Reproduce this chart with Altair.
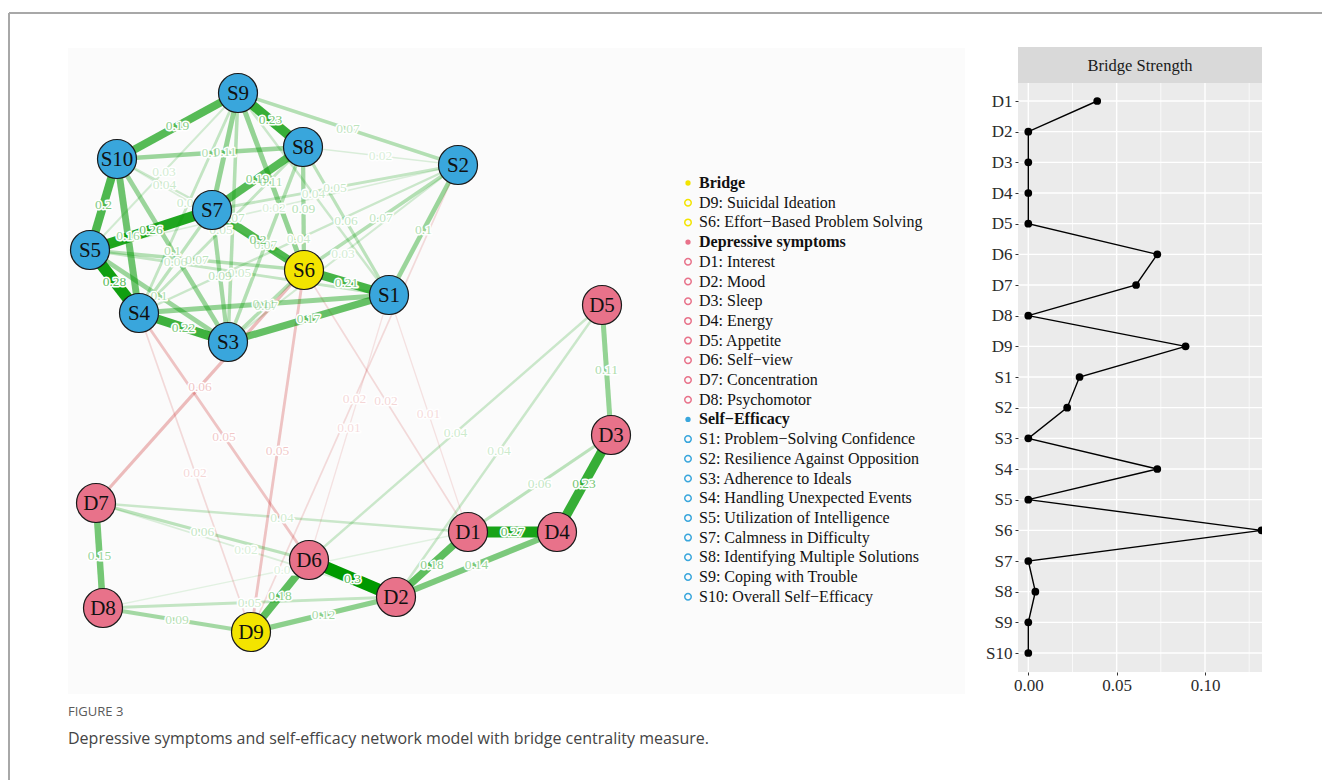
import altair as alt
import pandas as pd
import numpy as np

W, H = 1322, 780
SERIF = "Liberation Serif"
SANS = "Open Sans"

# ---------------- network nodes (layout coordinates) ----------------
node_ids = ["S1", "S2", "S3", "S4", "S5", "S6", "S7", "S8", "S9", "S10",
            "D1", "D2", "D3", "D4", "D5", "D6", "D7", "D8", "D9"]
node_x = [389, 458, 228, 139, 90, 304, 212, 303, 238, 117,
          468, 396, 611, 557, 602, 309, 96, 103, 251]
node_y = [295, 165, 342, 313, 250, 270, 210, 147, 93, 159,
          532, 597, 435, 532, 305, 560, 503, 608, 632]
node_group = (["Self-Efficacy"] * 5 + ["Bridge"] + ["Self-Efficacy"] * 4
              + ["Depressive symptoms"] * 8 + ["Bridge"])

# ---------------- network edges (partial correlations) ----------------
edge_from = ["S9", "S9", "S9", "S9", "S9", "S9", "S9", "S9", "S9",
             "S10", "S10", "S10", "S10", "S10", "S10",
             "S8", "S8", "S8", "S8", "S8", "S8",
             "S2", "S2", "S2", "S2", "S2", "S2",
             "S7", "S7", "S7", "S7",
             "S5", "S5", "S5", "S5",
             "S6", "S6", "S4", "S4", "S3",
             "S6", "S4", "S6", "S4", "S1", "S1", "S6", "S2",
             "D7", "D8", "D8", "D8", "D7", "D7", "D7",
             "D9", "D9", "D6", "D2", "D2", "D1", "D4", "D1", "D3", "D5", "D5"]
edge_to = ["S10", "S8", "S2", "S7", "S6", "S3", "S4", "S5", "S1",
           "S8", "S5", "S4", "S7", "S3", "S6",
           "S2", "S7", "S6", "S1", "S3", "S4",
           "S7", "S6", "S1", "S5", "S4", "S3",
           "S5", "S6", "S4", "S3",
           "S4", "S6", "S3", "S1",
           "S1", "S3", "S3", "S1", "S1",
           "D7", "D6", "D9", "D9", "D1", "D6", "D1", "D9",
           "D8", "D9", "D2", "D1", "D1", "D6", "D2",
           "D6", "D2", "D2", "D1", "D4", "D4", "D3", "D3", "D5", "D6", "D2"]
edge_weight = [0.19, 0.23, 0.07, 0.11, 0.11, 0.07, 0.05, 0.03, 0.04,
               0.10, 0.20, 0.16, 0.04, 0.10, 0.02,
               0.02, 0.19, 0.09, 0.06, 0.07, 0.05,
               0.05, 0.07, 0.10, 0.02, 0.04, 0.03,
               0.26, 0.20, 0.06, 0.09,
               0.28, 0.07, 0.10, 0.05,
               0.21, 0.07, 0.22, 0.11, 0.17,
               -0.06, -0.05, -0.05, -0.02, -0.01, -0.01, -0.02, -0.02,
               0.15, 0.09, 0.05, 0.01, 0.04, 0.06, 0.02,
               0.18, 0.12, 0.30, 0.18, 0.14, 0.27, 0.23, 0.06, 0.11, 0.04, 0.04]

# ---------------- legend ----------------
legend_labels = ["Bridge", "D9: Suicidal  Ideation", "S6: Effort\u2212Based Problem Solving",
                 "Depressive symptoms", "D1: Interest", "D2: Mood", "D3: Sleep", "D4: Energy",
                 "D5: Appetite", "D6: Self\u2212view", "D7: Concentration", "D8: Psychomotor",
                 "Self\u2212Efficacy", "S1: Problem\u2212Solving Confidence",
                 "S2: Resilience Against Opposition", "S3: Adherence to Ideals",
                 "S4: Handling Unexpected Events", "S5: Utilization of Intelligence",
                 "S7: Calmness in Difficulty", "S8: Identifying Multiple Solutions",
                 "S9: Coping with Trouble", "S10: Overall Self\u2212Efficacy"]
legend_group = (["Bridge"] * 3 + ["Depressive symptoms"] * 9 + ["Self-Efficacy"] * 10)
legend_header = [True, False, False, True] + [False] * 8 + [True] + [False] * 9

# ---------------- bridge strength ----------------
bridge_items = ["D1", "D2", "D3", "D4", "D5", "D6", "D7", "D8", "D9",
                "S1", "S2", "S3", "S4", "S5", "S6", "S7", "S8", "S9", "S10"]
bridge_values = [0.039, 0.0, 0.0, 0.0, 0.0, 0.073, 0.061, 0.0, 0.089,
                 0.029, 0.022, 0.0, 0.073, 0.0, 0.132, 0.0, 0.004, 0.0, 0.0]
x_ticks = [0.0, 0.05, 0.10]
x_minor = [0.025, 0.075, 0.125]

caption_title = "FIGURE 3"
caption_text = "Depressive symptoms and self-efficacy network model with bridge centrality measure."

# ================= build tables =================
GROUPS = ["Bridge", "Depressive symptoms", "Self-Efficacy"]
GROUP_COLS = ["#F3E400", "#E8728A", "#39A6DC"]

pos = {n: (x, y) for n, x, y in zip(node_ids, node_x, node_y)}
nodes = pd.DataFrame({"id": node_ids, "x": node_x, "y": node_y, "group": node_group})

edges = pd.DataFrame({"a": edge_from, "b": edge_to, "w": edge_weight})
edges["x"] = edges["a"].map(lambda n: pos[n][0])
edges["y"] = edges["a"].map(lambda n: pos[n][1])
edges["x2"] = edges["b"].map(lambda n: pos[n][0])
edges["y2"] = edges["b"].map(lambda n: pos[n][1])
edges["mx"] = (edges["x"] + edges["x2"]) / 2
edges["my"] = (edges["y"] + edges["y2"]) / 2
edges["aw"] = edges["w"].abs()
edges["sign"] = np.where(edges["w"] > 0, "pos", "neg")
edges["label"] = edges["aw"].map(lambda v: f"{v:.2f}".rstrip("0"))
edges = edges.sort_values("aw").reset_index(drop=True)
edges["ord"] = range(len(edges))

LEG_Y0, LEG_DY = 183, 19.7
legend = pd.DataFrame({"label": legend_labels, "group": legend_group, "header": legend_header})
legend["y"] = LEG_Y0 + LEG_DY * np.arange(len(legend))
legend["mx"] = 688
legend["tx"] = 699

bs = pd.DataFrame({"item": bridge_items, "value": bridge_values, "idx": range(len(bridge_items))})

# ================= scales =================
XS = alt.Scale(domain=[0, W], range=[0, W], nice=False, zero=False)
YS = alt.Scale(domain=[0, H], range=[0, H], nice=False, zero=False)

PANEL_L, PANEL_R, PANEL_T, PANEL_B = 1018, 1262, 83, 672
X0_PX, PER_UNIT = 1028.3, 1767.0
XP = alt.Scale(domain=[(PANEL_L - X0_PX) / PER_UNIT, (PANEL_R - X0_PX) / PER_UNIT],
               range=[PANEL_L, PANEL_R], nice=False, zero=False)
YP = alt.Scale(type="point", domain=bridge_items, range=[101, 653], padding=0)

SIGN_COL = alt.Scale(domain=["pos", "neg"], range=["#009900", "#BF0000"])
GRP_COL = alt.Scale(domain=GROUPS, range=GROUP_COLS)


def px(field, scale):
    return alt.X(field, scale=scale, axis=None)


def py(field, scale):
    return alt.Y(field, scale=scale, axis=None)


# ---- static decoration rects (pixel space) ----
rects = pd.DataFrame({
    "x": [68, PANEL_L, PANEL_L],
    "x2": [965, PANEL_R, PANEL_R],
    "y": [48, PANEL_T, 47],
    "y2": [694, PANEL_B, PANEL_T],
    "fill": ["#FBFBFB", "#EBEBEB", "#D9D9D9"],
})
rect_layer = alt.Chart(rects).mark_rect().encode(
    x=px("x:Q", XS), x2="x2:Q", y=py("y:Q", YS), y2="y2:Q",
    fill=alt.Fill("fill:N", scale=None),
)

frame = pd.DataFrame({"x": [9, 9], "x2": [W, 9], "y": [13, 13], "y2": [13, H]})
frame_layer = alt.Chart(frame).mark_rule(color="#A8A8A8", strokeWidth=2).encode(
    x=px("x:Q", XS), x2="x2:Q", y=py("y:Q", YS), y2="y2:Q")

edge_layer = alt.Chart(edges).mark_rule(strokeCap="butt").encode(
    x=px("x:Q", XS), y=py("y:Q", YS), x2="x2:Q", y2="y2:Q",
    color=alt.Color("sign:N", scale=SIGN_COL, legend=None),
    strokeWidth=alt.StrokeWidth("aw:Q", scale=alt.Scale(domain=[0, 0.3], range=[1.0, 12.0]), legend=None),
    opacity=alt.Opacity("aw:Q", scale=alt.Scale(domain=[0, 0.3], range=[0.07, 1.0]), legend=None),
    order=alt.Order("ord:Q"),
)

halo_layer = alt.Chart(edges).mark_text(
    font=SERIF, fontSize=13.5, fill="white", stroke="white", strokeWidth=3,
    strokeJoin="round", baseline="middle", align="center"
).encode(x=px("mx:Q", XS), y=py("my:Q", YS), text="label:N")

elabel_layer = alt.Chart(edges).mark_text(
    font=SERIF, fontSize=13.5, baseline="middle", align="center"
).encode(
    x=px("mx:Q", XS), y=py("my:Q", YS), text="label:N",
    color=alt.Color("sign:N", scale=SIGN_COL, legend=None),
    opacity=alt.Opacity("aw:Q", scale=alt.Scale(domain=[0, 0.3], range=[0.12, 0.7]), legend=None),
)

node_layer = alt.Chart(nodes).mark_circle(size=1520, stroke="#1A1A1A", strokeWidth=1.2, opacity=1).encode(
    x=px("x:Q", XS), y=py("y:Q", YS),
    color=alt.Color("group:N", scale=GRP_COL, legend=None),
)

nlabel_layer = alt.Chart(nodes).mark_text(font=SERIF, fontSize=21, color="#111111",
                                          baseline="middle", align="center", dy=1).encode(
    x=px("x:Q", XS), y=py("y:Q", YS), text="id:N")

leg_head_mark = alt.Chart(legend).transform_filter("datum.header").mark_circle(size=28, opacity=1).encode(
    x=px("mx:Q", XS), y=py("y:Q", YS),
    color=alt.Color("group:N", scale=GRP_COL, legend=None))
leg_item_mark = alt.Chart(legend).transform_filter("!datum.header").mark_point(
    size=42, strokeWidth=1.5, filled=False, opacity=1).encode(
    x=px("mx:Q", XS), y=py("y:Q", YS),
    color=alt.Color("group:N", scale=GRP_COL, legend=None))
leg_head_text = alt.Chart(legend).transform_filter("datum.header").mark_text(
    font=SERIF, fontSize=16, fontWeight="bold", align="left", baseline="middle", color="#111111").encode(
    x=px("tx:Q", XS), y=py("y:Q", YS), text="label:N")
leg_item_text = alt.Chart(legend).transform_filter("!datum.header").mark_text(
    font=SERIF, fontSize=16, align="left", baseline="middle", color="#111111").encode(
    x=px("tx:Q", XS), y=py("y:Q", YS), text="label:N")

texts = pd.DataFrame({
    "x": [68, 68, (PANEL_L + PANEL_R) / 2],
    "y": [712, 739, 66],
    "t": [caption_title, caption_text, "Bridge Strength"],
    "kind": ["fig", "cap", "strip"],
})
fig_layer = alt.Chart(texts).transform_filter("datum.kind == 'fig'").mark_text(
    font=SANS, fontSize=13, color="#5A5A5A", align="left", baseline="middle").encode(
    x=px("x:Q", XS), y=py("y:Q", YS), text="t:N")
cap_layer = alt.Chart(texts).transform_filter("datum.kind == 'cap'").mark_text(
    font=SANS, fontSize=16, color="#444444", align="left", baseline="middle").encode(
    x=px("x:Q", XS), y=py("y:Q", YS), text="t:N")
strip_layer = alt.Chart(texts).transform_filter("datum.kind == 'strip'").mark_text(
    font=SERIF, fontSize=16.5, color="#1A1A1A", align="center", baseline="middle").encode(
    x=px("x:Q", XS), y=py("y:Q", YS), text="t:N")

net = alt.layer(
    rect_layer, frame_layer, edge_layer, halo_layer, elabel_layer, node_layer, nlabel_layer,
    leg_head_mark, leg_item_mark, leg_head_text, leg_item_text,
    fig_layer, cap_layer, strip_layer,
).resolve_scale(color="independent", opacity="independent", strokeWidth="independent")

# ---------------- bridge strength panel ----------------
AXX = alt.Axis(orient="bottom", offset=-(H - PANEL_B), values=x_ticks, format=".2f",
               labelFont=SERIF, labelFontSize=17, labelColor="#2B2B2B",
               tickColor="#333333", tickSize=3, domain=False, grid=False,
               labelPadding=2, title=None, zindex=2)
AXY = alt.Axis(orient="left", offset=-PANEL_L, labelFont=SERIF, labelFontSize=17,
               labelColor="#2B2B2B", tickColor="#333333", tickSize=3,
               domain=False, grid=False, labelPadding=3, title=None, zindex=2)

grid_v = pd.DataFrame({"v": x_ticks + x_minor, "major": [True] * len(x_ticks) + [False] * len(x_minor)})
vmaj = alt.Chart(grid_v).transform_filter("datum.major").mark_rule(color="white", strokeWidth=1.4).encode(
    x=alt.X("v:Q", scale=XP, axis=AXX), y=alt.value(PANEL_T), y2=alt.value(PANEL_B))
vmin = alt.Chart(grid_v).transform_filter("!datum.major").mark_rule(color="white", strokeWidth=0.7).encode(
    x=alt.X("v:Q", scale=XP, axis=AXX), y=alt.value(PANEL_T), y2=alt.value(PANEL_B))
hgrid = alt.Chart(bs).mark_rule(color="white", strokeWidth=1.4).encode(
    y=alt.Y("item:N", scale=YP, sort=bridge_items, axis=AXY),
    x=alt.value(PANEL_L), x2=alt.value(PANEL_R))

line = alt.Chart(bs).mark_line(color="black", strokeWidth=1.4).encode(
    x=alt.X("value:Q", scale=XP, axis=AXX),
    y=alt.Y("item:N", scale=YP, sort=bridge_items, axis=AXY),
    order=alt.Order("idx:Q"))
points = alt.Chart(bs).mark_circle(color="black", size=60, opacity=1).encode(
    x=alt.X("value:Q", scale=XP, axis=AXX),
    y=alt.Y("item:N", scale=YP, sort=bridge_items, axis=AXY),
)
panel = alt.layer(vmaj, vmin, hgrid, line, points)

cover_df = pd.DataFrame({"x": [PANEL_R], "x2": [W], "y": [PANEL_T], "y2": [PANEL_B]})
cover = alt.Chart(cover_df).mark_rect(color="white").encode(
    x=px("x:Q", XS), x2="x2:Q", y=py("y:Q", YS), y2="y2:Q")

chart = alt.layer(net, panel, cover).resolve_scale(x="independent", y="independent").properties(
    width=W, height=H, padding=0, background="white",
    autosize=alt.AutoSizeParams(type="none"),
).configure_view(strokeWidth=0)

chart.save("out.html", embed_options={"renderer": "svg", "actions": False})
